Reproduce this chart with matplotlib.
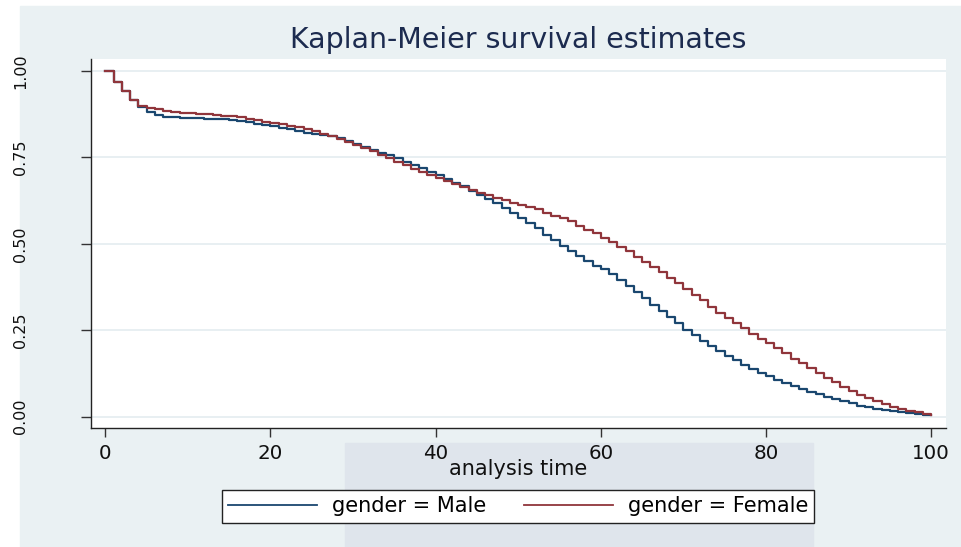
import matplotlib.pyplot as plt
from matplotlib.patches import Rectangle

# Kaplan-Meier step values (one value per time unit)
times = list(range(0, 101))

male_surv = [
    1.000, 0.969, 0.943, 0.916, 0.897, 0.882, 0.873, 0.868, 0.866, 0.865,
    0.864, 0.863, 0.862, 0.861, 0.860, 0.858, 0.855, 0.852, 0.848, 0.844,
    0.840, 0.836, 0.831, 0.826, 0.821, 0.818, 0.815, 0.812, 0.805, 0.798,
    0.790, 0.781, 0.771, 0.763, 0.756, 0.748, 0.738, 0.728, 0.719, 0.709,
    0.699, 0.688, 0.677, 0.666, 0.654, 0.642, 0.630, 0.618, 0.605, 0.590,
    0.574, 0.560, 0.545, 0.527, 0.511, 0.495, 0.480, 0.465, 0.450, 0.435,
    0.428, 0.412, 0.395, 0.378, 0.360, 0.342, 0.324, 0.306, 0.288, 0.270,
    0.252, 0.236, 0.220, 0.204, 0.190, 0.176, 0.163, 0.150, 0.138, 0.127,
    0.117, 0.107, 0.098, 0.089, 0.080, 0.072, 0.064, 0.057, 0.050, 0.044,
    0.038, 0.032, 0.027, 0.023, 0.019, 0.016, 0.013, 0.010, 0.008, 0.006,
    0.004,
]

female_surv = [
    1.000, 0.969, 0.943, 0.916, 0.900, 0.894, 0.889, 0.885, 0.883, 0.880,
    0.878, 0.876, 0.875, 0.873, 0.871, 0.869, 0.866, 0.862, 0.858, 0.854,
    0.850, 0.846, 0.842, 0.838, 0.832, 0.826, 0.819, 0.812, 0.803, 0.795,
    0.787, 0.778, 0.768, 0.758, 0.748, 0.738, 0.727, 0.716, 0.707, 0.698,
    0.690, 0.681, 0.672, 0.664, 0.656, 0.647, 0.640, 0.633, 0.626, 0.619,
    0.612, 0.606, 0.600, 0.589, 0.580, 0.574, 0.566, 0.553, 0.541, 0.530,
    0.518, 0.506, 0.492, 0.478, 0.463, 0.447, 0.433, 0.418, 0.402, 0.386,
    0.369, 0.353, 0.338, 0.316, 0.300, 0.284, 0.270, 0.255, 0.240, 0.226,
    0.212, 0.198, 0.184, 0.168, 0.154, 0.140, 0.126, 0.112, 0.099, 0.086,
    0.074, 0.063, 0.053, 0.044, 0.036, 0.029, 0.023, 0.017, 0.012, 0.008,
    0.005,
]

labels = ['gender = Male', 'gender = Female']
colors = ['#1a476f', '#90353b']

xticks = [0, 20, 40, 60, 80, 100]
yticks = [0.0, 0.25, 0.5, 0.75, 1.0]
ytick_labels = ['0.00', '0.25', '0.50', '0.75', '1.00']

W, H = 961, 547
plt.rcParams['font.family'] = ['DejaVu Sans']
fig = plt.figure(figsize=(W / 100, H / 100), dpi=100, facecolor='white')

# stata-like graph region + faint watermark block at the bottom
fig.patches.append(Rectangle((20 / W, 0), 1 - 20 / W, 1 - 6 / H,
                             transform=fig.transFigure, color='#eaf1f3', zorder=-2))
fig.patches.append(Rectangle((345 / W, 0), (813 - 345) / W, (547 - 443) / H,
                             transform=fig.transFigure, color='#dfe5ec', zorder=-1))

ax = fig.add_axes([90.7 / W, (H - 428) / H, (946 - 90.7) / W, (428 - 59) / H])
ax.set_facecolor('white')

ax.step(times, male_surv, where='post', color=colors[0], lw=1.6, label=labels[0], zorder=3)
ax.step(times, female_surv, where='post', color=colors[1], lw=1.6, label=labels[1], zorder=4)

ax.set_xlim(-1.77, 101.8)
ax.set_ylim(-0.033, 1.035)

for s in ['top', 'right']:
    ax.spines[s].set_visible(False)
for s in ['left', 'bottom']:
    ax.spines[s].set_color('#222222')
    ax.spines[s].set_linewidth(1.0)

ax.set_xticks(xticks)
ax.set_xticklabels([str(x) for x in xticks], fontsize=14.3, color='#111111')
ax.set_yticks(yticks)
ax.set_yticklabels(ytick_labels, fontsize=11.5, color='#111111', rotation=90, va='center')
ax.tick_params(axis='x', length=6.5, width=1, color='#333333', pad=5)
ax.tick_params(axis='y', length=7, width=1, color='#333333', pad=38)

ax.grid(axis='y', color='#e6eef1', lw=1.3, zorder=1)
ax.set_axisbelow(True)

ax.set_xlabel('analysis time', fontsize=15, color='#111111', labelpad=-3)
fig.text(518 / W, 1 - 40 / H, 'Kaplan-Meier survival estimates', fontsize=20.5,
         color='#1c2b4f', ha='center', va='center')

leg = fig.legend(loc='center', bbox_to_anchor=(518 / W, 1 - 506.5 / H), ncol=2,
                 fontsize=15, frameon=True, fancybox=False, shadow=False, framealpha=1,
                 handlelength=4.3, handletextpad=0.7, columnspacing=1.8,
                 borderpad=0.3, borderaxespad=0)
leg.get_frame().set_edgecolor('#222222')
leg.get_frame().set_linewidth(1.0)
leg.get_frame().set_facecolor('white')
for line in leg.get_lines():
    line.set_linewidth(1.3)

fig.savefig('out.png', dpi=100, facecolor=fig.get_facecolor())
